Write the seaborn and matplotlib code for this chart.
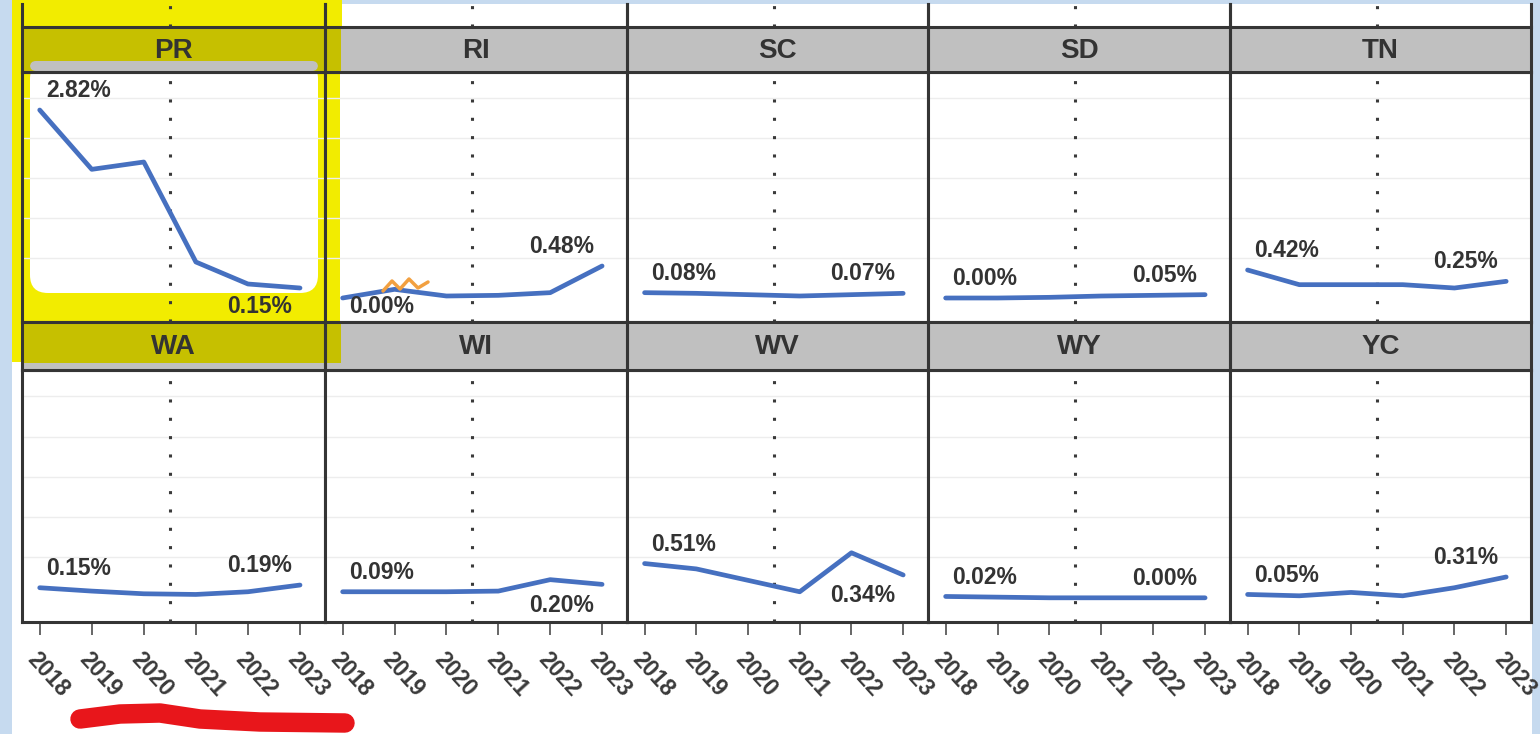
import numpy as np
import pandas as pd
import matplotlib
matplotlib.use("Agg")
import matplotlib.pyplot as plt
import matplotlib.transforms as mtransforms
from matplotlib.patches import Rectangle, FancyBboxPatch, Polygon
from matplotlib.lines import Line2D
import seaborn as sns

# ---------------- data ----------------
years = [2018, 2019, 2020, 2021, 2022, 2023]
states = ["PR", "RI", "SC", "SD", "TN", "WA", "WI", "WV", "WY", "YC"]
pr = [2.82, 1.93, 2.04, 0.54, 0.21, 0.15]
ri = [0.00, 0.13, 0.03, 0.04, 0.08, 0.48]
sc = [0.08, 0.07, 0.05, 0.03, 0.05, 0.07]
sd = [0.00, 0.00, 0.01, 0.03, 0.04, 0.05]
tn = [0.42, 0.20, 0.20, 0.20, 0.15, 0.25]
wa = [0.15, 0.10, 0.06, 0.05, 0.09, 0.19]
wi = [0.09, 0.09, 0.09, 0.10, 0.27, 0.20]
wv = [0.51, 0.43, 0.26, 0.09, 0.67, 0.34]
wy = [0.02, 0.01, 0.00, 0.00, 0.00, 0.00]
yc = [0.05, 0.03, 0.08, 0.03, 0.15, 0.31]
series = [pr, ri, sc, sd, tn, wa, wi, wv, wy, yc]
marker_year = 2020.5
grid_values = [0.6, 1.2, 1.8, 2.4, 3.0]
highlighted = ["PR", "WA"]

df = pd.DataFrame({
    "state": np.repeat(states, len(years)),
    "year": years * len(states),
    "value": np.concatenate(series),
})

# ---------------- style ----------------
W, H = 1540, 734
LINE = "#4670c0"
DARK = "#353535"
GREY = "#c0c0c0"
YELLOW = "#f2ec00"
OLIVE = "#c6c000"
TXT = "#333333"

sns.set_theme(style="white")
plt.rcParams["font.family"] = ["Liberation Sans", "DejaVu Sans"]

g = sns.FacetGrid(df, col="state", col_wrap=5, col_order=states,
                  sharex=True, sharey=True, height=3.67, aspect=0.839,
                  despine=False)
g.map_dataframe(sns.lineplot, x="year", y="value", color=LINE,
                linewidth=3.4, solid_capstyle="round")
g.set_titles("")
g.set_axis_labels("", "")
fig = g.figure
fig.set_size_inches(W / 100, H / 100)
fig.set_dpi(100)
fig.set_facecolor("#c6daef")

pix = mtransforms.Affine2D().scale(1 / W, -1 / H).translate(0, 1) + fig.transFigure


def fx(p):
    return p / W


def fy(p):
    return 1 - p / H


col_edges = [22, 325, 627, 928, 1230, 1531]
panel_rows = [(72, 322), (370, 622)]
strip_rows = [(27, 72), (322, 370)]
XLIM = (2017.66, 2023.48)
YLIM = (-0.36, 3.39)

# backdrop + highlighter
fig.add_artist(Rectangle((12, 4), 1520, 730, transform=pix, facecolor="white",
                         edgecolor="none", zorder=-5))
fig.add_artist(Polygon([(12, 0), (342, 0), (342, 336), (330, 342), (40, 362),
                        (12, 362)], closed=True, transform=pix,
                       facecolor=YELLOW, edgecolor="none", zorder=-4))

for i, st in enumerate(states):
    r, c = divmod(i, 5)
    ax = g.axes_dict[st]
    x0, x1 = col_edges[c], col_edges[c + 1]
    y0, y1 = panel_rows[r]
    ax.set_position([fx(x0), fy(y1), (x1 - x0) / W, (y1 - y0) / H])
    ax.set_xlim(*XLIM)
    ax.set_ylim(*YLIM)
    ax.set_yticks(grid_values)
    ax.tick_params(axis="y", length=0, labelleft=False)
    ax.yaxis.grid(True, color="#ededed", linewidth=1)
    ax.xaxis.grid(False)
    ax.set_axisbelow(True)
    for sp in ax.spines.values():
        sp.set_color(DARK)
        sp.set_linewidth(2.2)
        sp.set_visible(True)
    ax.axvline(marker_year, color="#3a3a3a", linestyle=(0, (1, 5)),
               linewidth=2.2, zorder=1.5)
    ax.set_xticks(years)
    if r == 0:
        ax.tick_params(axis="x", bottom=False, labelbottom=False)
    else:
        ax.tick_params(axis="x", bottom=True, labelbottom=True, length=9.5,
                       width=1.4, color="#666666", pad=9)
        ax.set_xticklabels([str(y) for y in years])
        for lbl in ax.get_xticklabels():
            lbl.set_rotation(-48)
            lbl.set_ha("left")
            lbl.set_va("top")
            lbl.set_rotation_mode("anchor")
            lbl.set_fontsize(16.5)
            lbl.set_fontweight("bold")
            lbl.set_color("#3a3a3a")

    # end-point value labels: below the point when the line rises away from it
    vals = series[i]
    room_pt = (vals[0] - YLIM[0]) / (YLIM[1] - YLIM[0]) * (y1 - y0) * 0.72
    first_dy = -min(15.0, room_pt - 11) if vals[0] < vals[1] else 14.0
    room_pt = (vals[-1] - YLIM[0]) / (YLIM[1] - YLIM[0]) * (y1 - y0) * 0.72
    last_dy = -min(15.0, room_pt - 11) if vals[-1] < vals[-2] else 14.0
    ax.annotate(f"{vals[0]:.2f}%", (years[0], vals[0]),
                xytext=(4.5, first_dy),
                textcoords="offset points", ha="left", va="center",
                fontsize=16.5, fontweight="bold", color=TXT, zorder=4)
    ax.annotate(f"{vals[-1]:.2f}%", (years[-1], vals[-1]),
                xytext=(-6, last_dy),
                textcoords="offset points", ha="right", va="center",
                fontsize=16.5, fontweight="bold", color=TXT, zorder=4)

    if st == "PR":
        ax.set_facecolor(YELLOW)
        ax.add_artist(FancyBboxPatch((30, 61), 288, 232,
                                     boxstyle="round,pad=0,rounding_size=18",
                                     transform=pix, facecolor="white",
                                     edgecolor="none", zorder=0.2))
    if st == "RI":
        ax.add_artist(Rectangle((325, 72), 15, 250, transform=pix,
                                facecolor=YELLOW, edgecolor="none", zorder=0.2))

    # strip header
    sy0, sy1 = strip_rows[r]
    face = OLIVE if st in highlighted else GREY
    fig.add_artist(Rectangle((x0, sy0), x1 - x0, sy1 - sy0, transform=pix,
                             facecolor=face, edgecolor="none", zorder=1))
    fig.add_artist(Rectangle((x0, sy0), x1 - x0, sy1 - sy0, transform=pix,
                             fill=False, edgecolor=DARK, linewidth=2.2,
                             zorder=2))
    fig.text((x0 + x1) / 2, (sy0 + sy1) / 2 + 1, st, transform=pix,
             ha="center", va="center", fontsize=20, fontweight="bold",
             color=TXT, zorder=3)

# highlighter details on strips
fig.add_artist(FancyBboxPatch((30, 61), 288, 10,
                              boxstyle="round,pad=0,rounding_size=6",
                              transform=pix, facecolor=GREY, edgecolor="none",
                              zorder=1.5))
fig.add_artist(Rectangle((22, 363), 303, 7, transform=pix, facecolor=GREY,
                         edgecolor="none", zorder=1.5))
fig.add_artist(Rectangle((325, 27), 16, 45, transform=pix, facecolor=OLIVE,
                         edgecolor="none", zorder=1.5))
fig.add_artist(Rectangle((325, 322), 16, 41, transform=pix, facecolor=OLIVE,
                         edgecolor="none", zorder=1.5))

# partial row of panels above (cropped in the screenshot)
for c in range(5):
    x0, x1 = col_edges[c], col_edges[c + 1]
    axt = fig.add_axes([fx(x0), fy(27), (x1 - x0) / W, 23 / H])
    axt.set_facecolor("none")
    axt.set_xlim(*XLIM)
    axt.set_ylim(0, 1)
    axt.axvline(marker_year, color="#3a3a3a", linestyle=(0, (1, 5)),
                linewidth=2.2)
    axt.set_xticks([])
    axt.set_yticks([])
    for name, sp in axt.spines.items():
        sp.set_visible(name in ("left", "right"))
        sp.set_color(DARK)
        sp.set_linewidth(2.2)

# hand-drawn annotations
fig.add_artist(Line2D([80, 120, 160, 200, 260, 345],
                      [719, 714, 713, 719, 722, 723], transform=pix,
                      color="#e8161b", linewidth=14, solid_capstyle="round",
                      solid_joinstyle="round", zorder=6))
fig.add_artist(Line2D([383, 392, 400, 409, 418, 428],
                      [291, 281, 289, 279, 288, 282], transform=pix,
                      color="#f2a040", linewidth=2.5, zorder=6))

fig.savefig("out.png", dpi=100, facecolor=fig.get_facecolor())
